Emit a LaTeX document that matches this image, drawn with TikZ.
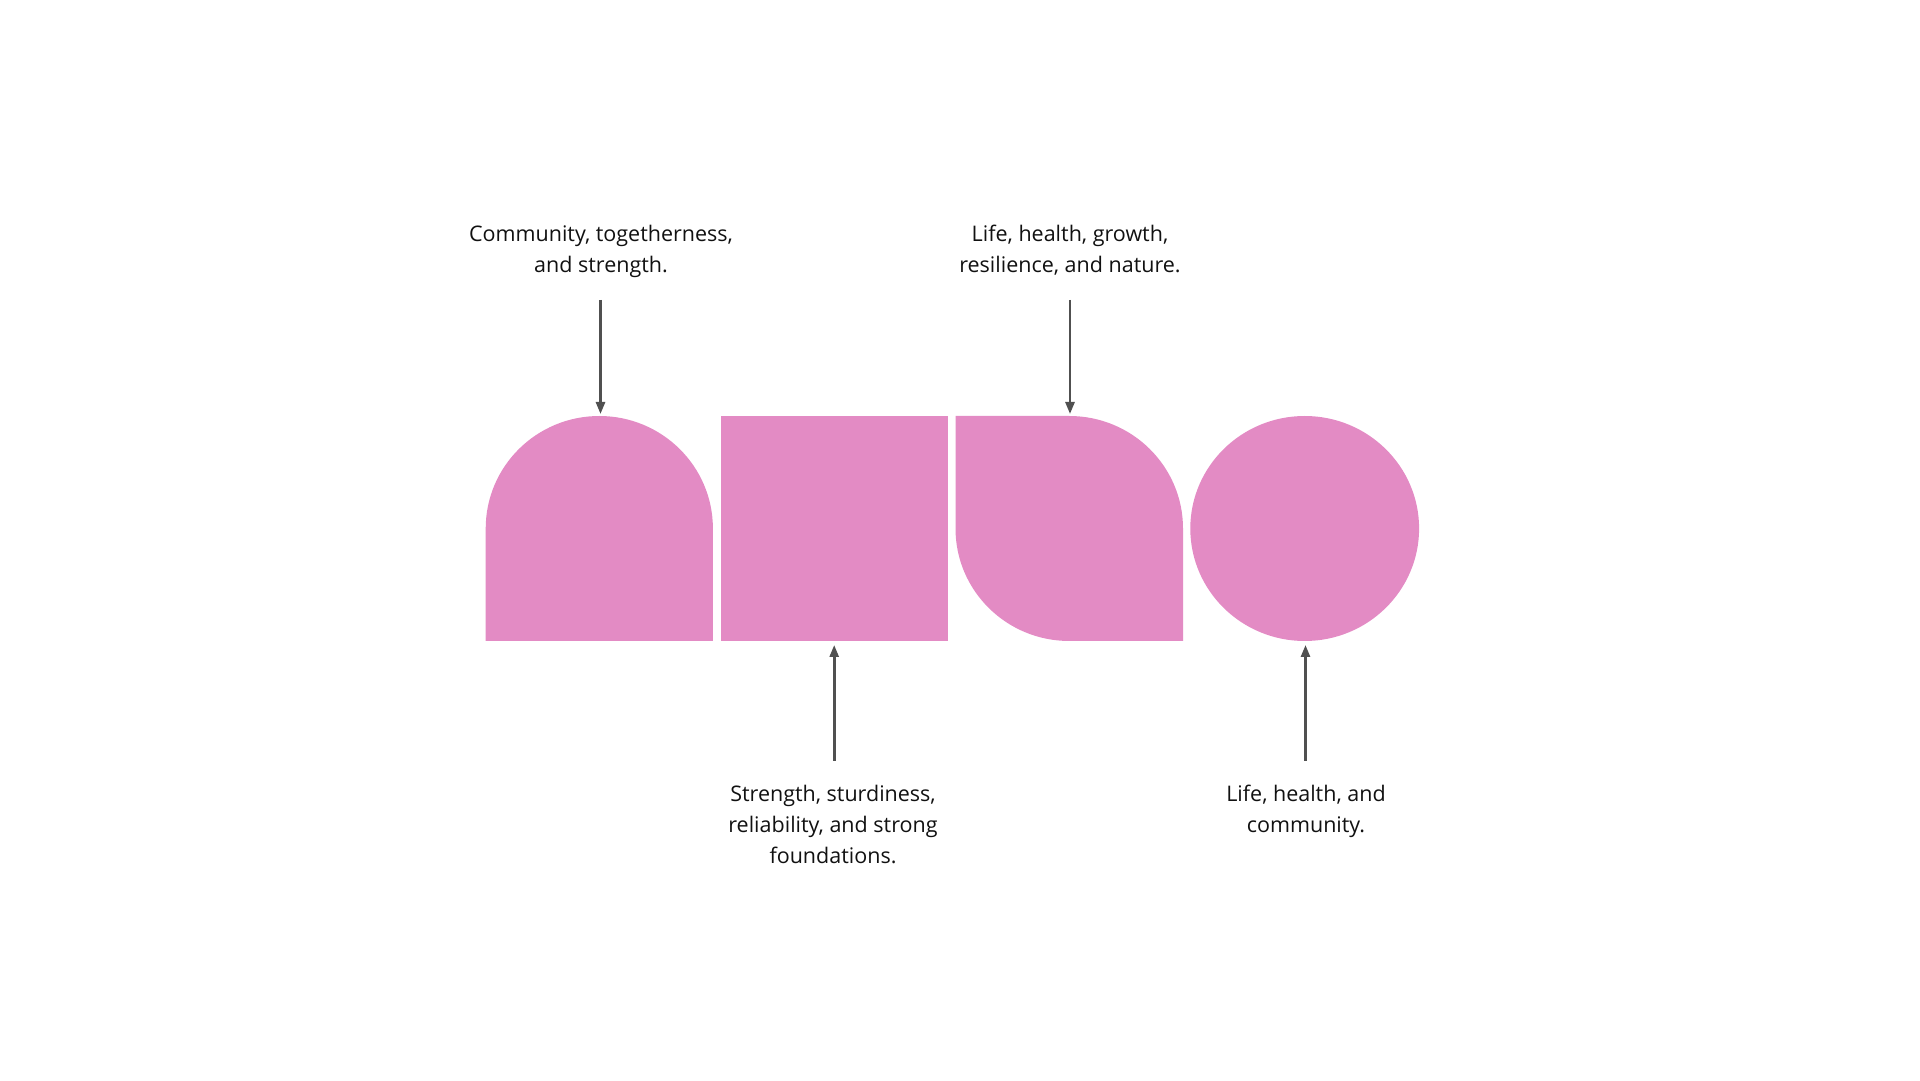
\documentclass[tikz,border=0pt]{standalone}
\usepackage{fontspec}
\setmainfont{Open Sans}
\usetikzlibrary{arrows.meta}
\definecolor{shapepink}{HTML}{E38BC4}
\definecolor{arrowgray}{HTML}{505050}
\definecolor{textdark}{HTML}{111111}
\tikzset{
  shapefill/.style={fill=shapepink},
  pointer/.style={draw=arrowgray, line width=2.6pt, -{Triangle[length=12pt,width=9pt]}},
  caption/.style={align=center, text=textdark, inner sep=0pt, anchor=north,
    font=\fontsize{21.5}{31}\selectfont}
}
\begin{document}
\begin{tikzpicture}[x=1pt,y=1pt]
\useasboundingbox (0,0) rectangle (1920,1080);
% shapes
\fill[shapefill] (485.7,439) -- (485.7,551.5) arc[start angle=180,end angle=0,x radius=113.6,y radius=112.5] -- (712.9,439) -- cycle;
\fill[shapefill] (720.5,439) rectangle (948,664);
\fill[shapefill] (955.5,664) -- (1069.3,664) arc[start angle=90,end angle=0,x radius=113.7,y radius=112.5] -- (1183,439) -- (1069.3,439) arc[start angle=270,end angle=180,x radius=113.8,y radius=112.5] -- cycle;
\fill[shapefill] (1304.7,551.5) ellipse[x radius=114.4,y radius=112.5];
% arrow end points
\coordinate (a1s) at (600.5,780);
\coordinate (a1e) at (600.5,666);
\coordinate (a2s) at (834.2,319);
\coordinate (a2e) at (834.2,435);
\coordinate (a3s) at (1070,780);
\coordinate (a3e) at (1070,666);
\coordinate (a4s) at (1305.5,319);
\coordinate (a4e) at (1305.5,435);
% labels
\node[caption] (t1) at (601,855) {Community, togetherness,\\and strength.};
\node[caption] (t3) at (1070,855) {Life, health, growth,\\resilience, and nature.};
\node[caption] (t2) at (833,295) {Strength, sturdiness,\\reliability, and strong\\foundations.};
\node[caption] (t4) at (1306,295) {Life, health, and\\community.};
% arrows
\draw[pointer] (a1s) -- (a1e);
\draw[pointer] (a3s) -- (a3e);
\draw[pointer] (a2s) -- (a2e);
\draw[pointer] (a4s) -- (a4e);
\end{tikzpicture}
\end{document}
